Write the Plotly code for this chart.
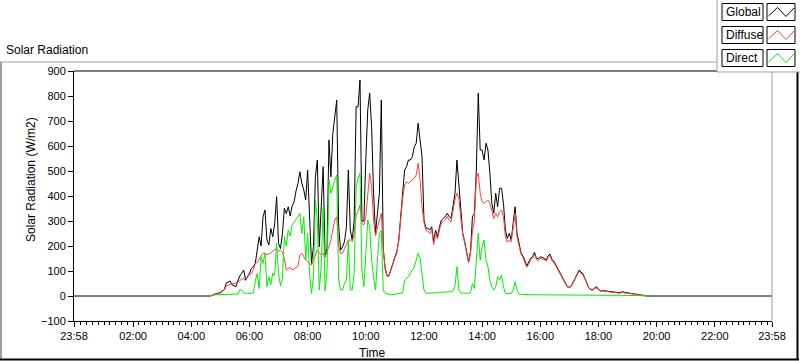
import plotly.graph_objects as go
import pandas as pd

# ---------------- data ----------------
axis_start = "2013-05-31 23:58"
axis_end = "2013-06-01 23:58"
sample_start = "2013-06-01 04:40"
sample_step = "4min"

global_wm2 = [0,
    5, 7, 9, 10, 14, 20, 25, 51, 55, 60,
    45, 40, 37, 60, 80, 91, 104, 64, 77, 91,
    110, 117, 131, 197, 237, 200, 317, 344, 224, 204,
    270, 237, 290, 397, 210, 190, 250, 351, 330, 357,
    320, 360, 375, 420, 450, 497, 451, 424, 384, 504,
    304, 131, 197, 477, 544, 197, 357, 517, 157, 190,
    624, 477, 651, 717, 784, 277, 184, 197, 217, 277,
    504, 264, 224, 304, 757, 757, 864, 300, 300, 544,
    744, 811, 677, 411, 250, 331, 411, 784, 190, 110,
    80, 84, 104, 131, 157, 177, 224, 317, 397, 504,
    517, 544, 544, 557, 597, 611, 691, 624, 557, 304,
    271, 271, 264, 277, 217, 264, 237, 277, 304, 311,
    317, 331, 317, 311, 357, 411, 544, 437, 317, 251,
    217, 177, 137, 177, 317, 330, 504, 811, 584, 584,
    544, 611, 584, 491, 371, 331, 411, 357, 431, 431,
    371, 264, 230, 251, 224, 291, 357, 251, 204, 174,
    160, 144, 120, 133, 151, 157, 175, 151, 148, 157,
    155, 151, 144, 160, 168, 147, 139, 124, 108, 91,
    75, 61, 51, 37, 35, 40, 57, 71, 88, 104,
    96, 88, 71, 53, 33, 27, 25, 32, 37, 27,
    20, 22, 21, 18, 17, 17, 16, 15, 15, 14,
    13, 17, 15, 13, 12, 12, 10, 9, 7, 6,
    5, 4, 3, 1, 0]

diffuse_wm2 = [0,
    5, 7, 8, 10, 12, 18, 24, 40, 45, 48,
    48, 50, 50, 55, 62, 65, 70, 62, 77, 85,
    90, 105, 130, 135, 150, 160, 170, 172, 165, 168,
    172, 180, 184, 190, 178, 184, 175, 150, 104, 110,
    115, 104, 108, 112, 118, 165, 171, 157, 144, 137,
    131, 124, 144, 164, 184, 171, 164, 171, 155, 180,
    197, 224, 264, 304, 317, 197, 171, 171, 190, 211,
    224, 224, 217, 251, 324, 337, 364, 290, 285, 317,
    411, 491, 437, 304, 240, 277, 304, 331, 185, 105,
    78, 80, 100, 128, 152, 172, 220, 312, 390, 444,
    457, 451, 457, 464, 471, 484, 531, 464, 357, 295,
    262, 260, 250, 265, 205, 252, 228, 265, 292, 300,
    305, 318, 302, 298, 345, 385, 411, 390, 310, 245,
    212, 172, 133, 170, 260, 300, 470, 491, 411, 377,
    371, 377, 384, 371, 345, 310, 331, 317, 337, 344,
    317, 237, 215, 224, 217, 277, 331, 237, 198, 168,
    155, 138, 115, 127, 145, 152, 168, 146, 142, 150,
    148, 147, 138, 154, 162, 140, 134, 119, 104, 88,
    72, 58, 48, 35, 33, 38, 55, 68, 84, 100,
    92, 84, 68, 51, 31, 25, 22, 30, 32, 24,
    18, 20, 19, 16, 15, 15, 14, 13, 13, 12,
    11, 14, 13, 11, 10, 10, 9, 8, 6, 5,
    4, 3, 2, 1, 0]

direct_wm2 = [0,
    3, 4, 5, 5, 5, 6, 6, 7, 7, 7,
    6, 6, 6, 8, 24, 24, 12, 10, 10, 10,
    10, 12, 60, 90, 30, 157, 130, 171, 37, 77,
    45, 91, 80, 211, 90, 40, 70, 237, 200, 264,
    240, 285, 295, 305, 317, 331, 251, 317, 144, 251,
    91, 11, 77, 384, 304, 24, 117, 357, 20, 100,
    464, 411, 444, 464, 484, 64, 24, 24, 51, 64,
    224, 24, 24, 91, 437, 471, 491, 104, 37, 197,
    304, 277, 144, 77, 24, 144, 251, 264, 24, 10,
    8, 6, 6, 6, 7, 8, 10, 12, 12, 64,
    70, 77, 91, 104, 117, 144, 171, 150, 91, 24,
    11, 11, 12, 12, 14, 12, 13, 15, 15, 16,
    16, 18, 18, 17, 20, 40, 117, 24, 12, 11,
    11, 11, 11, 12, 50, 30, 144, 251, 144, 197,
    224, 144, 117, 64, 37, 24, 37, 77, 64, 84,
    37, 11, 10, 10, 10, 24, 57, 24, 8, 7,
    6, 6, 5, 5, 5, 5, 5, 5, 5, 5,
    5, 5, 5, 4, 4, 4, 4, 4, 4, 3,
    3, 3, 3, 3, 3, 3, 3, 3, 3, 3,
    3, 3, 3, 3, 3, 3, 3, 3, 3, 2,
    2, 2, 2, 2, 2, 2, 2, 2, 2, 2,
    2, 2, 2, 2, 2, 2, 2, 2, 2, 2,
    2, 1, 1, 0, 0]

tick_times = ["2013-05-31 23:58", "2013-06-01 02:00", "2013-06-01 04:00",
              "2013-06-01 06:00", "2013-06-01 08:00", "2013-06-01 10:00",
              "2013-06-01 12:00", "2013-06-01 14:00", "2013-06-01 16:00",
              "2013-06-01 18:00", "2013-06-01 20:00", "2013-06-01 22:00",
              "2013-06-01 23:58"]
tick_labels = ["23:58", "02:00", "04:00", "06:00", "08:00", "10:00", "12:00",
               "14:00", "16:00", "18:00", "20:00", "22:00", "23:58"]
y_ticks = [-100, 0, 100, 200, 300, 400, 500, 600, 700, 800, 900]
series_names = ["Global", "Diffuse", "Direct"]
series_colors = ["#000000", "#ff4040", "#00f000"]

# ---------------- figure ----------------
times = list(pd.date_range(sample_start, periods=len(global_wm2), freq=sample_step))
minor_ticks = list(pd.date_range("2013-06-01 00:12", "2013-06-01 23:48", freq="12min"))

FONT = "Liberation Sans, Arial, sans-serif"
fig = go.Figure()
fig.add_trace(go.Scatter(x=[pd.Timestamp(axis_start)] + times + [pd.Timestamp(axis_end)],
                         y=[0] + global_wm2 + [0], mode="lines", name=series_names[0],
                         line=dict(color=series_colors[0], width=1)))
fig.add_trace(go.Scatter(x=times, y=diffuse_wm2, mode="lines", name=series_names[1],
                         line=dict(color=series_colors[1], width=1)))
fig.add_trace(go.Scatter(x=times, y=direct_wm2, mode="lines", name=series_names[2],
                         line=dict(color=series_colors[2], width=1)))

L, R, T, B = 74, 772, 71, 321
W, H = R - L, B - T


def PX(x):
    return (x - L) / W


def PY(y):
    return (B - y) / H


GRAY = "#a0a0a0"
shapes = []


def line(x0, y0, x1, y1, color, width=1):
    shapes.append(dict(type="line", xref="paper", yref="paper",
                       x0=PX(x0), y0=PY(y0), x1=PX(x1), y1=PY(y1),
                       line=dict(color=color, width=width)))


# plot frame (top black, right gray)
line(L, 71, 717, 71, "black")
line(772, 72, 772, B, GRAY)
# outer frame
line(0, 62, 717, 62, GRAY)
line(1, 62, 1, 360, GRAY, 2)
line(0, 359.5, 799, 359.5, "black", 2)
line(797.5, 72, 797.5, 360, "black", 2)
# legend panel
line(717, 0, 717, 72, GRAY)
line(717, 72, 800, 72, GRAY)

annotations = []
row_tops = [3.5, 26.5, 49.5]
for name, color, yt in zip(series_names, series_colors, row_tops):
    yb = yt + 17
    shapes.append(dict(type="rect", xref="paper", yref="paper",
                       x0=PX(722), x1=PX(763), y0=PY(yb), y1=PY(yt),
                       line=dict(color="black", width=1), fillcolor="white"))
    shapes.append(dict(type="rect", xref="paper", yref="paper",
                       x0=PX(767), x1=PX(795), y0=PY(yb), y1=PY(yt),
                       line=dict(color="black", width=1), fillcolor="white"))
    pts = [(768.5, yt + 12.5), (777.5, yt + 4), (786, yt + 13), (794, yt + 4.5)]
    path = "M " + " L ".join(f"{PX(a)},{PY(b)}" for a, b in pts)
    shapes.append(dict(type="path", xref="paper", yref="paper", path=path,
                       line=dict(color=color, width=1)))
    annotations.append(dict(text=name, xref="paper", yref="paper", x=PX(724), y=PY(yt + 8.5),
                            xanchor="left", yanchor="middle", showarrow=False,
                            font=dict(family=FONT, size=12, color="black")))

annotations.append(dict(text="Solar Radiation", xref="paper", yref="paper", x=PX(4), y=PY(50),
                        xanchor="left", yanchor="middle", showarrow=False,
                        font=dict(family=FONT, size=12, color="black")))
annotations.append(dict(text="Time", xref="paper", yref="paper", x=PX(372), y=PY(353),
                        xanchor="center", yanchor="middle", showarrow=False,
                        font=dict(family=FONT, size=12, color="black")))
annotations.append(dict(text="Solar Radiation (W/m2)", xref="paper", yref="paper",
                        x=PX(31), y=PY(180), xanchor="center", yanchor="middle",
                        textangle=-90, showarrow=False,
                        font=dict(family=FONT, size=12, color="black")))

fig.update_layout(
    width=800, height=361, autosize=False,
    margin=dict(l=L, r=800 - R, t=T, b=361 - B, pad=0),
    paper_bgcolor="white", plot_bgcolor="white",
    showlegend=False,
    font=dict(family=FONT, size=11, color="black"),
    shapes=shapes, annotations=annotations,
    xaxis=dict(type="date", range=[axis_start, axis_end],
               tickmode="array", tickvals=tick_times, ticktext=tick_labels,
               ticks="outside", ticklen=5, tickwidth=1, tickcolor="black",
               showline=True, linecolor="black", linewidth=1,
               showgrid=False, zeroline=False,
               tickfont=dict(family=FONT, size=11, color="black"),
               minor=dict(tickvals=minor_ticks, ticks="outside", ticklen=3,
                          tickcolor="black", tickwidth=1, showgrid=False)),
    yaxis=dict(range=[-100, 900], tickmode="array", tickvals=y_ticks,
               ticks="outside", ticklen=5, tickwidth=1, tickcolor="black",
               showline=True, linecolor="black", linewidth=1,
               showgrid=False, zeroline=False,
               tickfont=dict(family=FONT, size=11, color="black")),
)

fig.write_html("out.html", config={"displayModeBar": False},
               post_script="document.body.style.margin='0';document.body.style.padding='0';")
